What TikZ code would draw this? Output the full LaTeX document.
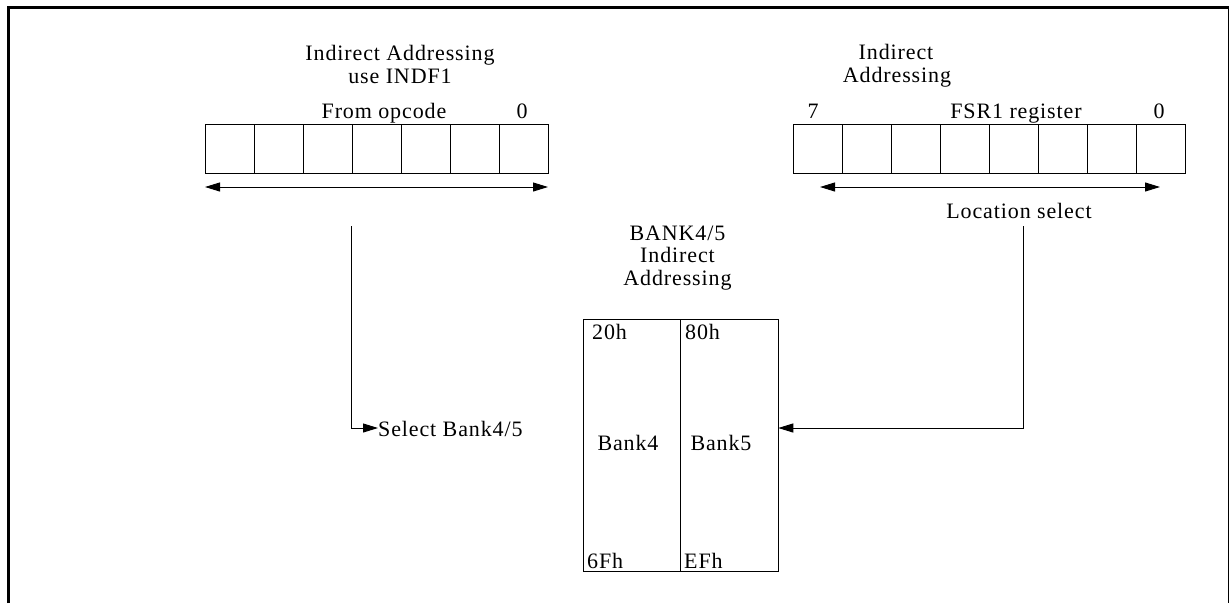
\documentclass[tikz,border=0pt]{standalone}
\usepackage{fontspec}
\setmainfont{Liberation Serif}[LetterSpace=4]
\usetikzlibrary{arrows.meta}
\begin{document}
\begin{tikzpicture}[x=1pt,y=-1pt,
  cell/.style={draw,line width=1pt,minimum width=49pt,minimum height=49pt,inner sep=0pt,outer sep=0pt},
  lbl/.style={font=\fontsize{22}{23}\selectfont,inner sep=0pt,anchor=base},
  lblw/.style={lbl,anchor=base west},
  arr/.style={line width=1pt,-{Triangle[length=15pt,width=9pt]}},
  darr/.style={line width=1pt,{Triangle[length=15pt,width=9pt]}-{Triangle[length=15pt,width=9pt]}},
  bank/.style={draw,line width=1pt,inner sep=0pt,outer sep=0pt,minimum width=97.5pt,minimum height=252pt}]
\useasboundingbox (0,0) rectangle (1230,603);
% frame
\draw[line width=3pt] (8.5,603) -- (8.5,7) -- (1229,7);
\draw[line width=1.5pt] (1228.5,7) -- (1228.5,603);
% left register (7 cells)
\foreach \i in {0,...,6} {
  \node[cell] (L\i) at ({229.5+49*\i},149) {};
}
\node[lbl] (lt1) at (400,60) {Indirect Addressing};
\node[lbl] (lt2) at (400,83) {use INDF1};
\node[lbl] (lop) at (384,118) {From opcode};
\node[lbl] (l0) at (522,118) {0};
\coordinate (la) at (205,187);
\coordinate (lb) at (548,187);
\draw[darr] (la) -- (lb);
% right register (8 cells)
\foreach \i in {0,...,7} {
  \node[cell] (R\i) at ({817.5+49*\i},149) {};
}
\node[lbl] (rt1) at (896,59) {Indirect};
\node[lbl] (rt2) at (897,82) {Addressing};
\node[lbl] (r7) at (813,118) {7};
\node[lbl] (rf) at (1016,118) {FSR1 register};
\node[lbl] (r0) at (1159,118) {0};
\coordinate (ra) at (820,187);
\coordinate (rb) at (1160,187);
\draw[darr] (ra) -- (rb);
\node[lbl] (ls) at (1019,218) {Location select};
% bank box
\node[lbl] (bt1) at (677.5,240) {BANK4/5};
\node[lbl] (bt2) at (677.5,262) {Indirect};
\node[lbl] (bt3) at (677.5,285) {Addressing};
\node[bank] (b4) at (632,445) {};
\node[bank] (b5) at (729.5,445) {};
\node[lblw] (a20) at (592,339) {20h};
\node[lblw] (a80) at (685,339) {80h};
\node[lbl] (n4) at (628,450) {Bank4};
\node[lbl] (n5) at (721,450) {Bank5};
\node[lblw] (a6f) at (587,568) {6Fh};
\node[lblw] (aef) at (684,568) {EFh};
% connectors
\node[lblw] (sel) at (378,436) {Select Bank4/5};
\coordinate (ltop) at (351,226);
\draw[arr] (ltop) |- (sel.west |- 0,428);
\coordinate (rtop) at (1023,226);
\draw[arr] (rtop) |- (b5.east |- 0,428);
\end{tikzpicture}
\end{document}
